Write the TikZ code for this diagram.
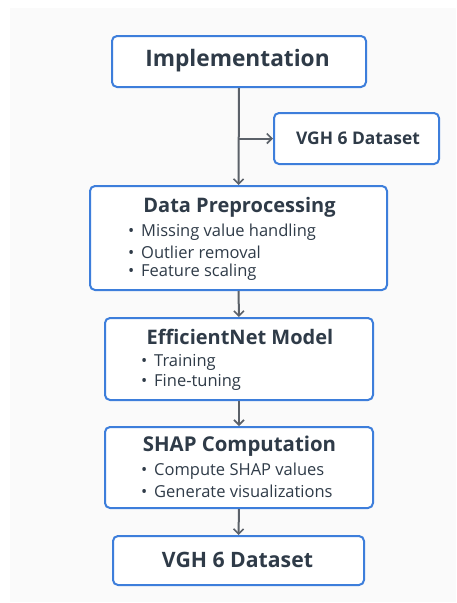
\documentclass[tikz,border=0pt]{standalone}
\usepackage{fontspec}
\setmainfont{Open Sans}
\usetikzlibrary{arrows.meta}
\definecolor{boxblue}{HTML}{3D7EDB}
\definecolor{txt}{HTML}{2F3B48}
\definecolor{arr}{HTML}{5B6169}
\definecolor{panel}{HTML}{FAFAFA}
\tikzset{
  box/.style={draw=boxblue, line width=2pt, rounded corners=5pt, fill=white, inner sep=0pt},
  ttl/.style={text=txt, font=\bfseries\fontsize{20}{22}\selectfont, inner sep=0pt},
  bul/.style={text=txt, font=\fontsize{16.5}{18}\selectfont, inner sep=0pt, anchor=west},
  conn/.style={draw=arr, line width=2pt, -{Straight Barb[length=5pt,width=10pt,line width=1.6pt]}}
}
\newcommand{\bt}[1]{\makebox[13pt][l]{•}#1}
\begin{document}
\begin{tikzpicture}[x=1pt,y=-1pt]
\useasboundingbox (0,0) rectangle (456,603);
\fill[panel] (10,8) rectangle (456,602);
% boxes
\node[box, minimum width=254pt, minimum height=51pt] (impl) at (239,61.5) {};
\node[box, minimum width=165pt, minimum height=51pt] (side) at (356.5,138.5) {};
\node[box, minimum width=297pt, minimum height=104pt] (prep) at (238.5,238) {};
\node[box, minimum width=268pt, minimum height=82pt] (eff) at (239,359) {};
\node[box, minimum width=268pt, minimum height=81pt] (shap) at (239,467.5) {};
\node[box, minimum width=251pt, minimum height=49pt] (fin) at (238.5,560.5) {};
% texts
\node[ttl, font=\bfseries\fontsize{22.7}{25}\selectfont] (implt) at (237.5,61) {Implementation};
\node[ttl, font=\bfseries\fontsize{17.4}{19}\selectfont] (sidet) at (358,138) {VGH 6 Dataset};
\node[ttl] (prept) at (239.5,207) {Data Preprocessing};
\node[bul] (p1) at (128,232) {\bt{Missing value handling}};
\node[bul] (p2) at (128,252) {\bt{Outlier removal}};
\node[bul] (p3) at (128,272) {\bt{Feature scaling}};
\node[ttl] (efft) at (240,337) {EfficientNet Model};
\node[bul] (e1) at (141,362) {\bt{Training}};
\node[bul] (e2) at (141,382) {\bt{Fine-tuning}};
\node[ttl, font=\bfseries\fontsize{20.4}{22}\selectfont] (shapt) at (239.5,446) {SHAP Computation};
\node[bul] (s1) at (141,471) {\bt{Compute SHAP values}};
\node[bul] (s2) at (141,491) {\bt{Generate visualizations}};
\node[ttl, font=\bfseries\fontsize{21.2}{23}\selectfont] (fint) at (237.5,560) {VGH 6 Dataset};
% connectors
\coordinate (br) at (impl.south |- side.west);
\draw[conn] (impl.south) -- (prep.north);
\draw[conn] (br) -- (side.west);
\draw[conn] (prep.south) -- (eff.north);
\draw[conn] (eff.south) -- (shap.north);
\draw[conn] (shap.south) -- (fin.north);
\end{tikzpicture}
\end{document}
